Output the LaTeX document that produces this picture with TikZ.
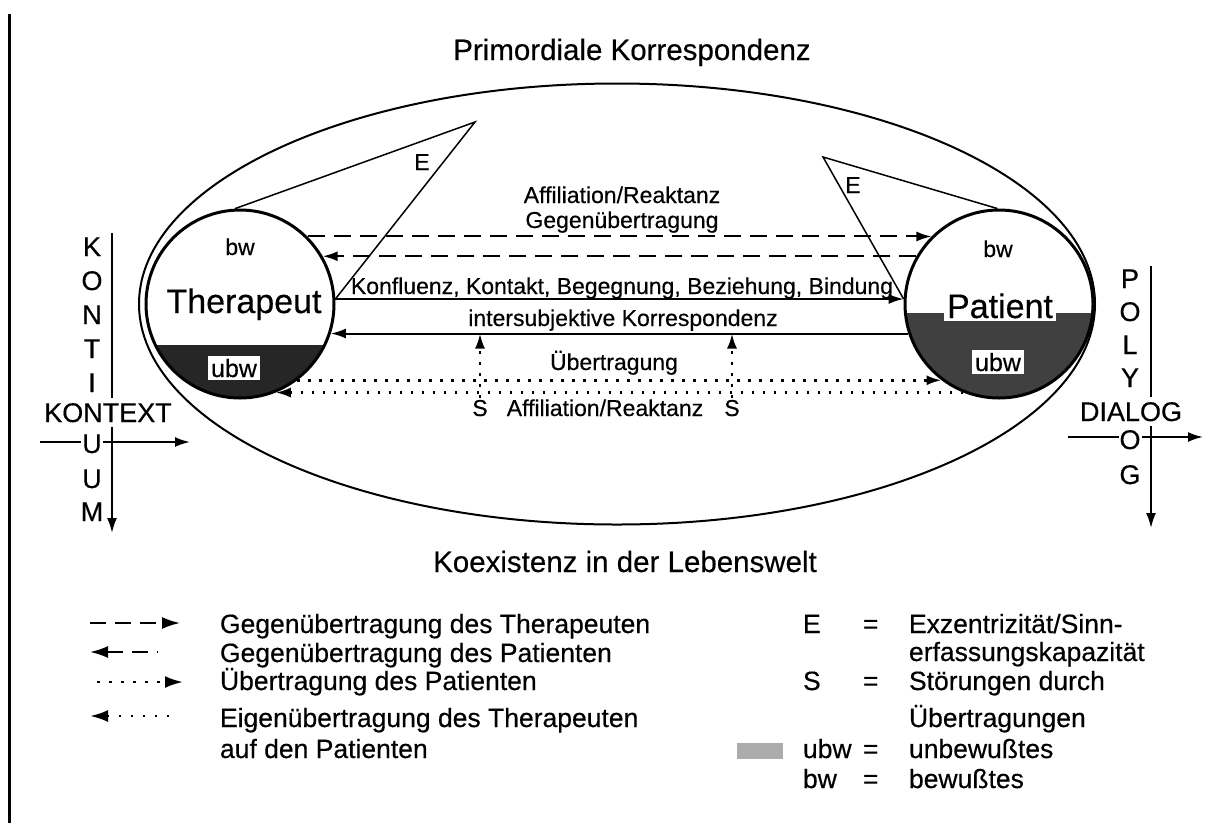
\documentclass[tikz,border=0pt]{standalone}
\usepackage{fontspec}
\setmainfont{Liberation Sans}[FakeBold=0.4]
\usetikzlibrary{arrows.meta}

\begin{document}
\begin{tikzpicture}[
    x=1pt, y=-1pt,
    line width=2pt,
    >={Latex[length=15pt,width=10pt]},
    lbl/.style = {font=\fontsize{23}{28}\selectfont, inner sep=1pt, anchor=base},
    title/.style = {font=\fontsize{29.5}{34}\selectfont, inner sep=1pt, anchor=base},
    big/.style = {font=\fontsize{34}{40}\selectfont, inner sep=3pt, anchor=base},
    ubwbox/.style = {font=\fontsize{25}{30}\selectfont, fill=white, inner sep=3pt, anchor=base},
    letter/.style = {font=\fontsize{27}{32}\selectfont, inner sep=1pt, fill=white, anchor=base},
    key/.style = {font=\fontsize{26.5}{32}\selectfont, inner sep=0pt, anchor=base west},
    person/.style = {draw, circle, line width=3pt, minimum size=188pt, inner sep=0pt},
    gegen/.style = {dash pattern=on 17pt off 9pt},
    ueber/.style = {dash pattern=on 2.5pt off 8.5pt, line width=2.5pt},
    legtip/.style = {>={Latex[length=18pt,width=12pt]}}
  ]
  \useasboundingbox (0,0) rectangle (1215,823);

  \draw[line width=3pt] (9,14) -- (9,823);

  \node (top) [title] at (632,60) {Primordiale Korrespondenz};
  \node (bottom) [title] at (625,572) {Koexistenz in der Lebenswelt};

  \draw (617,304) ellipse [x radius=478, y radius=220.5];

  % unbewusste Anteile
  \coordinate (tc) at (240,304);
  \coordinate (pc) at (999,304);
  \begin{scope}
    \clip (tc) circle [radius=94pt];
    \fill[black!85] (140,345) rectangle (340,400);
  \end{scope}
  \begin{scope}
    \clip (pc) circle [radius=94pt];
    \fill[black!75] (900,313) rectangle (1100,400);
  \end{scope}
  \node (ther) [person] at (tc) {};
  \node (pat) [person] at (pc) {};

  \node (tbw) [lbl] at (240,255) {bw};
  \node (tname) [big] at (244,313) {Therapeut};
  \node (tubw) [ubwbox] at (234,377) {ubw};
  \node (pbw) [lbl] at (998,257) {bw};
  \node (pname) [big, fill=white] at (1000,318) {Patient};
  \node (pubw) [ubwbox] at (998,371) {ubw};

  % Exzentrizitaet
  \coordinate (tE) at (475,122);
  \coordinate (pE) at (823,157);
  \draw[line width=1.5pt] (ther.93) -- (tE) -- (ther.3);
  \draw[line width=1.5pt] (pat.91) -- (pE) -- (pat.177);
  \node (tElbl) [lbl] at (422,170) {E};
  \node (pElbl) [lbl] at (853,193) {E};

  \draw[gegen,->] (ther.45) -- (pat.135);
  \draw[gegen,->] (pat.150) -- (ther.30);
  \draw[->] (ther.3) -- (pat.177);
  \draw[->] (pat.198) -- (ther.-18);
  \draw[ueber,->] (ther.-53) -- (pat.233);
  \draw[ueber,->] (pat.248) -- (ther.-68);

  \node (aff1) [lbl] at (622,203) {Affiliation/Reaktanz};
  \node (geg) [lbl] at (622,228) {Gegenübertragung};
  \node (konf) [lbl] at (622,294) {Konfluenz, Kontakt, Begegnung, Beziehung, Bindung};
  \node (inter) [lbl] at (623,326) {intersubjektive Korrespondenz};
  \node (ueb) [lbl] at (614,370) {Übertragung};
  \node (s1) [lbl] at (480,416) {S};
  \node (s2) [lbl] at (732,416) {S};
  \node (aff2) [lbl] at (605,416) {Affiliation/Reaktanz};
  \draw[ueber,->] (s1.north) -- (s1.north |- ther.-18);
  \draw[ueber,->] (s2.north) -- (s2.north |- ther.-18);

  % Kontinuum / Kontext
  \coordinate (kvtop) at (112,233);
  \coordinate (kvbot) at (112,533);
  \coordinate (khl) at (40,442);
  \coordinate (khr) at (190,442);
  \draw[->] (kvtop) -- (kvbot);
  \draw[->] (khl) -- (khr);
  \node (k1) [letter] at (92,256) {K};
  \node (k2) [letter] at (92,290) {O};
  \node (k3) [letter] at (92,324) {N};
  \node (k4) [letter] at (92,358) {T};
  \node (k5) [letter] at (92,392) {I};
  \node (kontext) [letter, inner ysep=5pt] at (108,422) {KONTEXT};
  \node (k7) [letter] at (92,453) {U};
  \node (k8) [letter] at (92,488) {U};
  \node (k9) [letter] at (92,521) {M};

  % Polylog / Dialog
  \coordinate (pvtop) at (1151,266);
  \coordinate (pvbot) at (1151,528);
  \coordinate (phl) at (1068,437);
  \coordinate (phr) at (1203,437);
  \draw[->] (pvtop) -- (pvbot);
  \draw[->] (phl) -- (phr);
  \node (p1) [letter] at (1130,288) {P};
  \node (p2) [letter] at (1130,321) {O};
  \node (p3) [letter] at (1130,354) {L};
  \node (p4) [letter] at (1130,387) {Y};
  \node (dialog) [letter, inner ysep=5pt] at (1131,421) {DIALOG};
  \node (p6) [letter] at (1130,449) {O};
  \node (p7) [letter] at (1130,484) {G};

  % Legende
  \coordinate (l1a) at (90,623);  \coordinate (l1b) at (180,623);
  \coordinate (l2a) at (90,652);  \coordinate (l2b) at (158,652);
  \coordinate (l3a) at (97,682);  \coordinate (l3b) at (183,682);
  \coordinate (l4a) at (90,716);  \coordinate (l4b) at (178,716);
  \draw[legtip, dash pattern=on 16pt off 9pt, ->] (l1a) -- (l1b);
  \draw[legtip, dash pattern=on 16pt off 9pt, <-] (l2a) -- (l2b);
  \draw[legtip, ueber, dash pattern=on 2.5pt off 9.5pt, ->] (l3a) -- (l3b);
  \draw[legtip, ueber, dash pattern=on 2.5pt off 9.5pt, <-] (l4a) -- (l4b);
  \node (g1) [key] at (219,633) {Gegenübertragung des Therapeuten};
  \node (g2) [key] at (219,662) {Gegenübertragung des Patienten};
  \node (g3) [key] at (219,690) {Übertragung des Patienten};
  \node (g4) [key] at (219,727) {Eigenübertragung des Therapeuten};
  \node (g5) [key] at (219,758) {auf den Patienten};

  \node (kgray) [fill=black!33, minimum width=46pt, minimum height=16pt, inner sep=0pt] at (760,751) {};
  \node (le) [key] at (802,633) {E};
  \node (leq) [key] at (862,633) {=};
  \node (lex) [key] at (908,633) {Exzentrizität/Sinn-};
  \node (lerf) [key] at (908,661) {erfassungskapazität};
  \node (ls) [key] at (802,690) {S};
  \node (lseq) [key] at (862,690) {=};
  \node (lst) [key] at (908,690) {Störungen durch};
  \node (lueb) [key] at (908,727) {Übertragungen};
  \node (lubw) [key] at (802,758) {ubw};
  \node (lueq) [key] at (862,758) {=};
  \node (lunb) [key] at (908,758) {unbewußtes};
  \node (lbw) [key] at (802,788) {bw};
  \node (lbeq) [key] at (862,788) {=};
  \node (lbew) [key] at (908,788) {bewußtes};

\end{tikzpicture}
\end{document}
